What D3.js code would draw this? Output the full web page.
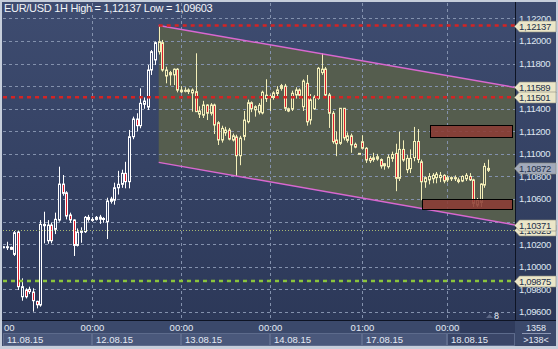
<!DOCTYPE html>
<html>
<head>
<meta charset="utf-8">
<script src="https://cdn.jsdelivr.net/npm/d3@7"></script>
<style>
  body { margin: 0; background: #c8d0dc; }
  svg { display: block; }
  text { font-family: "Liberation Sans", Arial, sans-serif; }
</style>
</head>
<body>
<div id="chart"></div>
<script>
// hourly candles, index 0 = 11.08.15 00:00
var opens = [1.10175,1.10172,1.10172,1.10110,1.10308,1.09735,1.09795,1.09801,1.09777,1.09694,
  1.09662,1.10364,1.10231,1.10370,1.10332,1.10414,1.10733,1.10655,1.10459,1.10415,
  1.10190,1.10305,1.10311,1.10438,1.10420,1.10420,1.10440,1.10428,1.10399,1.10580,
  1.10590,1.10700,1.10731,1.10828,1.10754,1.11152,1.11309,1.11250,1.11439,1.11415,
  1.11743,1.11832,1.11905,1.11985,1.11690,1.11720,1.11700,1.11750,1.11565,1.11560,
  1.11552,1.11540,1.11551,1.11352,1.11343,1.11433,1.11360,1.11433,1.11276,1.11123,
  1.11187,1.11211,1.11123,1.11150,1.10984,1.11155,1.11285,1.11453,1.11390,1.11370,
  1.11363,1.11490,1.11510,1.11500,1.11535,1.11580,1.11600,1.11380,1.11398,1.11522,
  1.11566,1.11418,1.11625,1.11300,1.11400,1.11492,1.11720,1.11752,1.11522,1.11360,
  1.11123,1.11094,1.11404,1.11120,1.11160,1.11085,1.11005,1.11108,1.11050,1.10960,
  1.10950,1.10955,1.10950,1.10895,1.10887,1.10960,1.11005,1.10784,1.11040,1.10860,
  1.10870,1.10968,1.11110,1.10930,1.10753,1.10770,1.10780,1.10790,1.10790,1.10810,
  1.10770,1.10780,1.10790,1.10770,1.10760,1.10780,1.10800,1.10770,1.10547,1.10570,
  1.10724,1.10855];
var highs = [1.10185,1.10222,1.10180,1.10317,1.10317,1.09898,1.09810,1.09824,1.09810,1.09700,
  1.10414,1.10488,1.10414,1.10390,1.10480,1.10887,1.10813,1.10670,1.10480,1.10420,
  1.10340,1.10350,1.10450,1.10460,1.10440,1.10450,1.10460,1.10440,1.10612,1.10620,
  1.10745,1.10850,1.10860,1.10930,1.11212,1.11330,1.11360,1.11581,1.11500,1.11787,
  1.11920,1.11994,1.12137,1.12009,1.11772,1.11735,1.11757,1.11760,1.11600,1.11590,
  1.11580,1.11580,1.11891,1.11422,1.11470,1.11440,1.11450,1.11445,1.11290,1.11250,
  1.11240,1.11230,1.11180,1.11170,1.11160,1.11380,1.11480,1.11465,1.11430,1.11450,
  1.11560,1.11661,1.11525,1.11555,1.11600,1.11620,1.11620,1.11410,1.11560,1.11590,
  1.11580,1.11660,1.11699,1.11530,1.11520,1.11770,1.11891,1.11770,1.11540,1.11380,
  1.11200,1.11404,1.11404,1.11190,1.11180,1.11100,1.11008,1.11165,1.11060,1.10980,
  1.11010,1.11000,1.10960,1.10920,1.10995,1.11020,1.11090,1.11196,1.11120,1.10990,
  1.11040,1.11239,1.11220,1.10950,1.10800,1.10830,1.10830,1.10840,1.10840,1.10820,
  1.10810,1.10800,1.10810,1.10790,1.10810,1.10830,1.10830,1.10780,1.10610,1.10740,
  1.10920,1.10950];
var lows = [1.10165,1.10149,1.10150,1.10096,1.09795,1.09700,1.09720,1.09759,1.09603,1.09632,
  1.09647,1.10208,1.10204,1.10208,1.10290,1.10400,1.10630,1.10420,1.10390,1.10096,
  1.10180,1.10213,1.10300,1.10400,1.10400,1.10410,1.10380,1.10390,1.10246,1.10560,
  1.10550,1.10640,1.10700,1.10695,1.10695,1.11130,1.11200,1.11227,1.11400,1.11389,
  1.11699,1.11787,1.11880,1.11728,1.11625,1.11607,1.11610,1.11545,1.11540,1.11545,
  1.11530,1.11374,1.11371,1.11318,1.11318,1.11300,1.11340,1.11176,1.11079,1.11100,
  1.11160,1.11120,1.11110,1.10804,1.10900,1.11120,1.11270,1.11370,1.11330,1.11350,
  1.11350,1.11460,1.11380,1.11480,1.11500,1.11560,1.11380,1.11370,1.11380,1.11490,
  1.11490,1.11380,1.11250,1.11260,1.11390,1.11480,1.11700,1.11500,1.11230,1.11090,
  1.10980,1.11080,1.11120,1.11100,1.11010,1.11050,1.11002,1.11040,1.10920,1.10920,
  1.10930,1.10940,1.10870,1.10860,1.10870,1.10930,1.10670,1.10760,1.10930,1.10830,
  1.10830,1.10935,1.10920,1.10590,1.10700,1.10730,1.10740,1.10740,1.10750,1.10740,
  1.10750,1.10760,1.10760,1.10740,1.10750,1.10760,1.10760,1.10530,1.10530,1.10530,
  1.10700,1.10840];
var closes = [1.10178,1.10178,1.10155,1.10302,1.09824,1.09824,1.09735,1.09780,1.09700,1.09664,
  1.10376,1.10376,1.10370,1.10231,1.10421,1.10733,1.10651,1.10450,1.10415,1.10190,
  1.10308,1.10317,1.10438,1.10420,1.10415,1.10438,1.10422,1.10420,1.10583,1.10600,
  1.10700,1.10731,1.10828,1.10754,1.11152,1.11309,1.11250,1.11448,1.11468,1.11743,
  1.11905,1.11985,1.11994,1.11743,1.11743,1.11700,1.11750,1.11565,1.11550,1.11563,
  1.11566,1.11566,1.11374,1.11380,1.11433,1.11360,1.11433,1.11256,1.11123,1.11226,
  1.11211,1.11131,1.11160,1.10984,1.11140,1.11300,1.11453,1.11400,1.11418,1.11430,
  1.11546,1.11520,1.11500,1.11540,1.11567,1.11605,1.11404,1.11400,1.11537,1.11566,
  1.11520,1.11645,1.11284,1.11478,1.11504,1.11758,1.11750,1.11522,1.11360,1.11108,
  1.11090,1.11404,1.11142,1.11160,1.11080,1.11060,1.11005,1.11050,1.10946,1.10940,
  1.10965,1.10975,1.10893,1.10913,1.10970,1.10995,1.10784,1.11040,1.10946,1.10960,
  1.10960,1.11110,1.10950,1.10753,1.10790,1.10800,1.10810,1.10820,1.10810,1.10760,
  1.10790,1.10790,1.10780,1.10755,1.10800,1.10810,1.10770,1.10562,1.10590,1.10733,
  1.10890,1.10872];

var yTicks = [1.096,1.098,1.100,1.102,1.104,1.106,1.108,1.110,1.112,1.114,1.116,1.118,1.120,1.122];
var timeTickIdx = [0, 24, 48, 72, 97, 120];
var timeTickLabels = ["00","00:00","00:00","00:00","01:00","00:00"];
var dateLabels = ["11.08.15","12.08.15","13.08.15","14.08.15","17.08.15","18.08.15"];

// channel: [start index, end index], upper and lower prices at the ends
var channelIdx = [42, 138.3];
var channelUpper = [1.12137, 1.11589];
var channelLower = [1.10925, 1.10371];

// zones [startIdx, endIdx, top, bottom]
var zones = [[115.3, 137.5, 1.11256, 1.11150], [113.2, 137.5, 1.10600, 1.10512]];

var levelsRed = [1.12137, 1.11501];
var levelGreen = 1.09875;
var levelThin = 1.10325;
var lastPrice = 1.10872;

var W = 558, H = 349;
var plotL = 3, plotR = 515, plotT = 3, plotB = 320;

var fmt = function(v){ return d3.format(".5f")(v).replace(".", ","); };

var svg = d3.select("#chart").append("svg")
  .attr("width", W).attr("height", H);

var defs = svg.append("defs");
var grad = defs.append("linearGradient").attr("id","bg").attr("x1",0).attr("y1",0).attr("x2",0).attr("y2",1);
grad.append("stop").attr("offset","0%").attr("stop-color","#3e4c70");
grad.append("stop").attr("offset","100%").attr("stop-color","#2b3757");

// frame
svg.append("rect").attr("width", W).attr("height", H).attr("fill", "#c6cedb");
svg.append("rect").attr("x", 2).attr("y", 2).attr("width", W - 4).attr("height", H - 5).attr("fill", "url(#bg)");

var x = d3.scaleLinear().domain([0, 131]).range([3.3, 3.3 + 3.7 * 131]);
var y = d3.scaleLinear().domain([1.096, 1.122]).range([312, 18.4]);

var plot = svg.append("g");
plot.append("defs").append("clipPath").attr("id","clip")
  .append("rect").attr("x", plotL).attr("y", plotT).attr("width", plotR - plotL).attr("height", plotB - plotT);

var inner = plot.append("g").attr("clip-path","url(#clip)");

// channel fill
var chPts = [
  [x(channelIdx[0]), y(channelUpper[0])],
  [x(channelIdx[1]), y(channelUpper[1])],
  [x(channelIdx[1]), y(channelLower[1])],
  [x(channelIdx[0]), y(channelLower[0])]
];
var chFill = "#555d4e";
inner.append("polygon")
  .attr("points", chPts.map(function(p){ return p.join(","); }).join(" "))
  .attr("fill", chFill);

// grid
inner.selectAll(".hgrid").data(yTicks).enter().append("line")
  .attr("x1", plotL).attr("x2", plotR)
  .attr("y1", function(d){ return Math.round(y(d)) + 0.5; })
  .attr("y2", function(d){ return Math.round(y(d)) + 0.5; })
  .attr("stroke", "#8391ad").attr("stroke-width", 1).attr("stroke-dasharray", "3,3");
inner.selectAll(".vgrid").data(timeTickIdx.slice(1)).enter().append("line")
  .attr("x1", function(d){ return Math.round(x(d)) + 0.5; })
  .attr("x2", function(d){ return Math.round(x(d)) + 0.5; })
  .attr("y1", plotT).attr("y2", plotB)
  .attr("stroke", "#8391ad").attr("stroke-width", 1).attr("stroke-dasharray", "3,3");

// candles
var candles = opens.map(function(o, i){
  return {i: i, o: o, h: highs[i], l: lows[i], c: closes[i]};
});
var inCh = function(d){ return x(d.i) >= 157; };
var light = function(d){ return inCh(d) ? "#f3eeb8" : "#ffffff"; };

var cg = inner.selectAll(".candle").data(candles).enter().append("g");
cg.append("line")
  .attr("x1", function(d){ return Math.round(x(d.i)) + 0.5; })
  .attr("x2", function(d){ return Math.round(x(d.i)) + 0.5; })
  .attr("y1", function(d){ return y(d.h); })
  .attr("y2", function(d){ return y(d.l); })
  .attr("stroke", light).attr("stroke-width", 1);
cg.append("rect")
  .attr("x", function(d){ return Math.round(x(d.i)) - 1 + 0.5; })
  .attr("y", function(d){ return y(Math.max(d.o, d.c)); })
  .attr("width", 2)
  .attr("height", function(d){ return Math.max(1, Math.abs(y(d.o) - y(d.c))); })
  .attr("fill", function(d){ return d.c < d.o ? "#e01e2e" : (inCh(d) ? chFill : "#36446a"); })
  .attr("stroke", light).attr("stroke-width", 1);

// channel lines
inner.append("line")
  .attr("x1", chPts[0][0]).attr("y1", chPts[0][1]).attr("x2", chPts[1][0]).attr("y2", chPts[1][1])
  .attr("stroke", "#d968d0").attr("stroke-width", 1.5);
inner.append("line")
  .attr("x1", chPts[3][0]).attr("y1", chPts[3][1]).attr("x2", chPts[2][0]).attr("y2", chPts[2][1])
  .attr("stroke", "#d968d0").attr("stroke-width", 1.5);

// level lines
inner.append("line")
  .attr("x1", x(channelIdx[0])).attr("x2", plotR)
  .attr("y1", y(levelsRed[0])).attr("y2", y(levelsRed[0]))
  .attr("stroke", "#d42424").attr("stroke-width", 2.5).attr("stroke-dasharray", "4,4");
inner.append("line")
  .attr("x1", plotL).attr("x2", plotR)
  .attr("y1", y(levelsRed[1])).attr("y2", y(levelsRed[1]))
  .attr("stroke", "#d42424").attr("stroke-width", 2.5).attr("stroke-dasharray", "4,4");
inner.append("line")
  .attr("x1", plotL).attr("x2", plotR)
  .attr("y1", y(levelGreen)).attr("y2", y(levelGreen))
  .attr("stroke", "#8cc43c").attr("stroke-width", 2.5).attr("stroke-dasharray", "4,4");
inner.append("line")
  .attr("x1", plotL).attr("x2", plotR)
  .attr("y1", Math.round(y(levelThin)) + 0.5).attr("y2", Math.round(y(levelThin)) + 0.5)
  .attr("stroke", "#a8b872").attr("stroke-width", 1).attr("stroke-dasharray", "1,2");

// zones
inner.selectAll(".zone").data(zones).enter().append("rect")
  .attr("x", function(d){ return Math.round(x(d[0])) + 0.5; })
  .attr("y", function(d){ return Math.round(y(d[2])) + 0.5; })
  .attr("width", function(d){ return Math.round(x(d[1]) - x(d[0])); })
  .attr("height", function(d){ return Math.round(y(d[3]) - y(d[2])); })
  .attr("fill", "#8c3c36").attr("fill-opacity", 0.88)
  .attr("stroke", "#000").attr("stroke-width", 1);

// small marker
svg.append("path").attr("d", "M486,318 L489.5,314 L493,318 Z").attr("fill", "#5a6684");
svg.append("text").attr("x", 494).attr("y", 319).attr("fill", "#e8eef6")
  .attr("font-size", "9px").text("8");

// title
svg.append("text").attr("x", 4).attr("y", 12).attr("fill", "#f2f4f8")
  .attr("font-size", "11px").attr("letter-spacing", "-0.3px")
  .text("EUR/USD 1H High = 1,12137 Low = 1,09603");

// price boxes
var boxes = [
  {v: levelThin, fill: "#ebe6c8"},
  {v: channelUpper[1] , fill: "#ebe6c8"},
  {v: levelsRed[0], fill: "#ebe6c8"},
  {v: levelsRed[1], fill: "#ebe6c8"},
  {v: channelLower[1], fill: "#ebe6c8"},
  {v: levelGreen, fill: "#ebe6c8"},
  {v: lastPrice, fill: "#a2aabb"}
];

// right axis (tick labels fully covered by a price box are left out)
svg.append("line").attr("x1", plotR + 0.5).attr("x2", plotR + 0.5).attr("y1", 2).attr("y2", 346)
  .attr("stroke", "#0e1424").attr("stroke-width", 1);
var shown = yTicks.filter(function(t){
  return !boxes.some(function(b){ return Math.abs(y(b.v) - y(t)) < 4; });
});
svg.selectAll(".ylab").data(shown).enter().append("text")
  .attr("x", 519).attr("y", function(d){ return y(d) + 3.4; })
  .attr("fill", "#dfe6f1").attr("font-size", "9.5px").attr("letter-spacing", "-0.35px")
  .text(fmt);

var bg = svg.selectAll(".pbox").data(boxes).enter().append("g")
  .attr("transform", function(d){ return "translate(0," + Math.round(y(d.v)) + ")"; });
bg.append("path")
  .attr("d", "M514.5,0.5 L519.5,-5 L556,-5 L556,6 L519.5,6 Z")
  .attr("fill", function(d){ return d.fill; })
  .attr("stroke", "#8f8f80").attr("stroke-width", 0.6);
bg.append("text").attr("x", 519).attr("y", 4)
  .attr("fill", "#23304a").attr("font-size", "9.5px").attr("letter-spacing", "-0.35px")
  .text(function(d){ return fmt(d.v); });

// bottom axis
svg.append("rect").attr("x", 2).attr("y", plotB).attr("width", W - 4).attr("height", 26).attr("fill", "#3b496b");
svg.append("line").attr("x1", 2).attr("x2", W - 2).attr("y1", plotB + 0.5).attr("y2", plotB + 0.5)
  .attr("stroke", "#0e1424");
svg.append("rect").attr("x", plotR - 55).attr("y", plotB + 1).attr("width", 55).attr("height", 25).attr("fill", "#2f3b5c");

var dateBounds = timeTickIdx.map(function(d){ return Math.round(x(d)); });
dateBounds[0] = plotL;
svg.selectAll(".dcell").data(dateLabels).enter().append("rect")
  .attr("x", function(d, i){ return dateBounds[i] + 0.5; })
  .attr("y", 333.5)
  .attr("width", function(d, i){ return (i < dateBounds.length - 1 ? dateBounds[i + 1] : plotR) - dateBounds[i] - 1; })
  .attr("height", 12)
  .attr("fill", function(d, i){ return i == dateLabels.length - 1 ? "#3a4668" : "#4a587b"; })
  .attr("stroke", "#5d6b8c").attr("stroke-width", 1);
svg.selectAll(".dlab").data(dateLabels).enter().append("text")
  .attr("x", function(d, i){ return dateBounds[i] + 4; })
  .attr("y", 343)
  .attr("fill", "#e4eaf4").attr("font-size", "9.5px")
  .text(function(d){ return d; });
svg.selectAll(".tlab").data(timeTickIdx).enter().append("text")
  .attr("x", function(d, i){ return i == 0 ? 4 : Math.round(x(d)) + 0.5; })
  .attr("y", 331)
  .attr("text-anchor", function(d, i){ return i == 0 ? "start" : "middle"; })
  .attr("fill", "#e4eaf4").attr("font-size", "9.5px")
  .text(function(d, i){ return timeTickLabels[i]; });

// corner counter
svg.append("rect").attr("x", plotR + 1).attr("y", plotB + 1).attr("width", W - plotR - 3).attr("height", 25).attr("fill", "#3b496b");
svg.append("text").attr("x", 536).attr("y", 331).attr("text-anchor", "middle")
  .attr("fill", "#e4eaf4").attr("font-size", "9px").text("1358");
svg.append("line").attr("x1", 522).attr("x2", 551).attr("y1", 333.5).attr("y2", 333.5).attr("stroke", "#8c98b4");
svg.append("text").attr("x", 536).attr("y", 343).attr("text-anchor", "middle")
  .attr("fill", "#e4eaf4").attr("font-size", "9px").text(">138<");
</script>
</body>
</html>
